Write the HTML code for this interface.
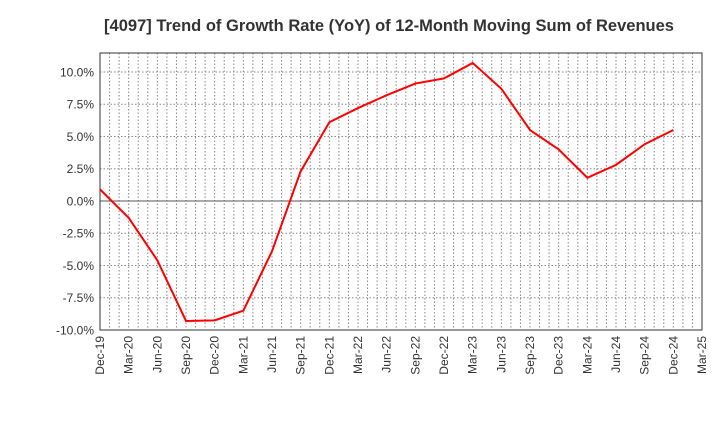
<!DOCTYPE html>
<html><head><meta charset="utf-8"><style>
body{margin:0;background:#fff;width:720px;height:440px;overflow:hidden;font-family:"Liberation Sans",sans-serif}
</style></head><body>
<svg width="720" height="440">
<text x="389" y="31" text-anchor="middle" font-size="16.5" font-weight="bold" fill="#333">[4097]  Trend of Growth Rate (YoY) of 12-Month Moving Sum of Revenues</text>
<g id="grid"></g><g id="axes"></g><g id="series"></g>
</svg>
<script>
const categories=["Dec-19","Mar-20","Jun-20","Sep-20","Dec-20","Mar-21","Jun-21","Sep-21","Dec-21","Mar-22","Jun-22","Sep-22","Dec-22","Mar-23","Jun-23","Sep-23","Dec-23","Mar-24","Jun-24","Sep-24","Dec-24","Mar-25"];
const values=[0.9,-1.3,-4.6,-9.3,-9.25,-8.5,-3.9,2.3,6.1,7.2,8.2,9.1,9.5,10.7,8.7,5.5,4.0,1.8,2.8,4.4,5.5];
const yTicks=[-10,-7.5,-5,-2.5,0,2.5,5,7.5,10];
const yTickLabels=["-10.0%","-7.5%","-5.0%","-2.5%","0.0%","2.5%","5.0%","7.5%","10.0%"];
const L=100,R=702,T=53,B=330,yMin=-10,yMax=11.47;
const ns="http://www.w3.org/2000/svg";
const x=i=>L+(R-L)*i/(categories.length-1);
const y=v=>B-(v-yMin)/(yMax-yMin)*(B-T);
function mk(tag,attrs,parent){const e=document.createElementNS(ns,tag);for(const k in attrs)e.setAttribute(k,attrs[k]);document.getElementById(parent).appendChild(e);return e;}
for(let m=1;m<(categories.length-1)*3;m++){const xx=L+(R-L)*m/((categories.length-1)*3);
const g=mk("line",{x1:xx,x2:xx,y1:T,y2:B,stroke:"#888","stroke-dasharray":"1.5,2","stroke-width":1},"grid");

}
yTicks.forEach((t,i)=>{const yy=y(t);
const g=mk("line",{x1:L,x2:R,y1:yy,y2:yy,stroke:t===0?"#555":"#888","stroke-dasharray":t===0?"none":"1.5,2","stroke-width":1},"grid");


const tx=mk("text",{x:L-6,y:yy+4.5,"text-anchor":"end","font-size":12,fill:"#333"},"axes");tx.textContent=yTickLabels[i];

});
categories.forEach((c,i)=>{const xx=x(i);
const tx=mk("text",{transform:`translate(${xx+4},${B+6}) rotate(-90)`,"text-anchor":"end","font-size":12,fill:"#333"},"axes");tx.textContent=c;

});
const fr=mk("rect",{x:L,y:T,width:R-L,height:B-T,fill:"none",stroke:"#333","stroke-width":1},"axes");


const pl=mk("polyline",{points:values.map((v,i)=>x(i)+","+y(v)).join(" "),fill:"none",stroke:"#f00","stroke-width":2},"series");


</script>
</body></html>
